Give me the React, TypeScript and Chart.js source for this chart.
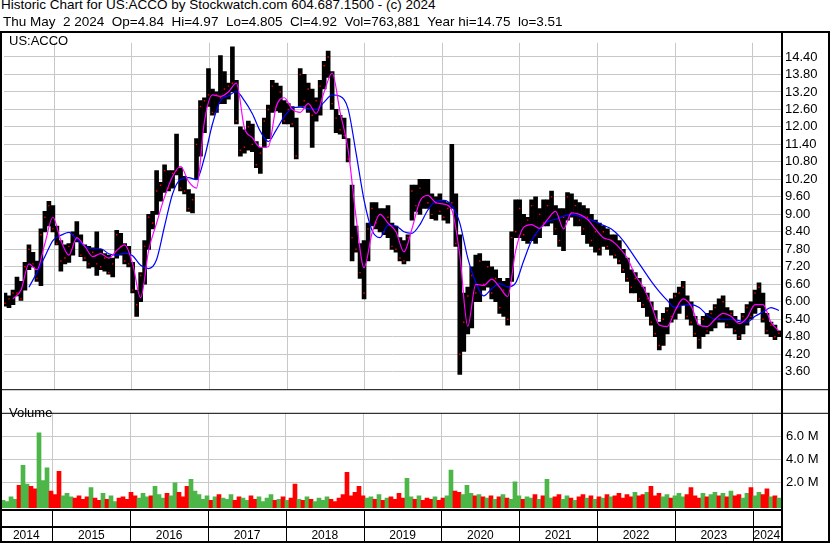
import React, { useEffect, useRef } from 'react';
import { Chart, registerables } from 'chart.js';

Chart.register(...registerables);

const FONT = '"Liberation Sans", Arial, sans-serif';
const GRID = '#c8c8c8';

const HEADER_1 = 'Historic Chart for US:ACCO by Stockwatch.com 604.687.1500 - (c) 2024';
const HEADER_2 = 'Thu May  2 2024  Op=4.84  Hi=4.97  Lo=4.805  Cl=4.92  Vol=763,881  Year hi=14.75  lo=3.51';
const SYMBOL = 'US:ACCO';
const VOLUME_TITLE = 'Volume';

// time axis (decimal years)
const X_MIN = 2014.351;
const X_MAX = 2024.364;
const START_YEAR = 2014.364; // date of first sample
const STEP_YEARS = 0.05141; // about 18.8 days between samples
const YEAR_BOUNDARIES = [2015, 2016, 2017, 2018, 2019, 2020, 2021, 2022, 2023, 2024];
const YEAR_LABELS = ['2014', '2015', '2016', '2017', '2018', '2019', '2020', '2021', '2022', '2023', '2024'];

const PRICE_MIN = 3.0;
const PRICE_MAX = 14.886;
const PRICE_TICKS = [3.6, 4.2, 4.8, 5.4, 6.0, 6.6, 7.2, 7.8, 8.4, 9.0, 9.6, 10.2, 10.8, 11.4, 12.0, 12.6, 13.2, 13.8, 14.4];
const VOL_MIN = -0.154;
const VOL_MAX = 7.923;
const VOLUME_TICKS = [2, 4, 6];

const HIGH = [
  6.3, 6.2, 6.4, 6.85, 6.7, 7.35, 7.95, 7.7, 7.4, 8.5,
  9.1, 9.45, 9.3, 8.6, 8.1, 7.95, 8.0, 8.4, 8.75, 8.3,
  7.95, 7.9, 7.85, 8.4, 7.8, 7.65, 7.6, 7.5, 8.45, 8.35,
  8.0, 7.9, 7.35, 6.4, 7.0, 8.1, 9.0, 9.1, 10.5, 10.1,
  10.7, 10.5, 10.5, 11.75, 10.6, 10.3, 9.85, 9.7, 11.6, 12.9,
  13.0, 14.0, 13.3, 13.2, 14.45, 13.9, 13.5, 14.75, 13.6, 12.0,
  11.9, 12.2, 12.1, 11.5, 11.3, 12.3, 12.75, 13.6, 13.5, 13.4,
  12.9, 12.8, 12.7, 12.3, 14.0, 13.8, 13.5, 13.3, 13.0, 13.6,
  14.25, 14.6, 13.9, 12.6, 12.4, 12.3, 11.6, 10.0, 8.6, 8.0,
  8.1, 8.7, 9.4, 9.4, 9.2, 9.2, 9.3, 8.7, 8.6, 8.2,
  8.1, 8.3, 10.0, 10.0, 10.2, 10.2, 10.2, 9.7, 9.6, 9.7,
  9.45, 9.4, 11.4, 9.7, 8.3, 6.3, 6.5, 7.2, 7.6, 7.65,
  7.4, 7.4, 7.2, 7.1, 6.8, 6.7, 6.8, 8.4, 9.5, 9.5,
  9.0, 8.9, 9.5, 9.6, 9.2, 9.5, 9.5, 9.8, 9.3, 9.2,
  9.2, 9.75, 9.7, 9.5, 9.4, 9.3, 9.2, 9.0, 8.8, 8.7,
  8.6, 8.5, 8.3, 8.3, 8.1, 7.8, 7.5, 7.1, 7.0, 6.8,
  6.5, 6.3, 6.0, 5.7, 5.3, 5.6, 5.8, 6.1, 6.3, 6.5,
  6.7, 6.2, 6.0, 5.5, 5.2, 5.5, 5.6, 5.7, 5.9, 6.1,
  6.2, 5.8, 5.7, 5.5, 5.3, 5.6, 5.9, 6.0, 6.4, 6.65,
  6.3, 5.6, 5.3, 5.2, 5.0,
];

const LOW = [
  5.85, 5.8, 5.9, 6.2, 6.05, 6.4, 7.1, 7.2, 6.7, 6.55,
  8.4, 8.6, 8.4, 7.95, 7.05, 7.3, 7.35, 7.6, 8.05, 7.55,
  7.4, 7.15, 7.2, 6.9, 7.1, 7.05, 6.95, 6.85, 7.5, 7.6,
  7.3, 7.2, 6.3, 5.5, 6.0, 6.6, 7.8, 8.5, 9.0, 9.45,
  9.75, 9.8, 9.9, 10.35, 9.8, 9.7, 9.1, 9.05, 10.2, 11.0,
  11.8, 12.7, 12.4, 12.5, 12.8, 12.8, 12.95, 13.2, 12.1, 11.0,
  11.1, 11.2, 11.15, 10.6, 10.4, 11.3, 11.6, 12.5, 12.55, 12.5,
  12.1, 12.1, 12.0, 10.9, 12.7, 12.7, 12.5, 11.3, 12.2, 12.4,
  13.3, 13.7, 12.6, 11.8, 11.75, 11.6, 10.8, 7.4, 7.7, 6.8,
  6.1, 7.4, 8.6, 8.5, 8.4, 8.3, 8.2, 7.8, 7.7, 7.4,
  7.3, 7.4, 8.8, 9.1, 9.0, 9.2, 9.2, 8.85, 8.8, 9.0,
  8.8, 8.7, 9.2, 7.9, 3.51, 4.3, 4.9, 5.1, 6.0, 6.0,
  6.4, 6.5, 6.1, 6.0, 5.6, 5.5, 5.2, 6.7, 8.2, 8.2,
  8.1, 8.0, 8.1, 8.0, 8.2, 8.6, 8.6, 8.7, 8.3, 7.9,
  7.75, 8.8, 8.9, 8.6, 8.6, 8.3, 8.0, 7.9, 7.7, 7.6,
  7.9, 7.8, 7.6, 7.5, 7.3, 7.0, 6.7, 6.3, 6.3, 6.0,
  5.8, 5.5, 5.2, 4.8, 4.35, 4.5, 4.9, 5.3, 5.4, 5.6,
  5.9, 5.4, 5.2, 4.8, 4.4, 4.8, 4.9, 5.0, 5.1, 5.3,
  5.3, 5.1, 5.1, 4.9, 4.7, 4.9, 5.2, 5.4, 5.6, 5.8,
  5.3, 4.9, 4.8, 4.7, 4.8,
];

const CLOSE = [
  5.95, 6.1, 6.3, 6.3, 6.1, 7.2, 7.8, 7.3, 6.8, 8.3,
  8.9, 9.3, 8.5, 8.0, 7.4, 7.5, 7.9, 8.3, 8.2, 7.6,
  7.5, 7.3, 7.7, 7.3, 7.2, 7.5, 7.0, 7.3, 8.3, 7.9,
  7.4, 7.3, 6.4, 5.9, 6.9, 7.9, 8.9, 8.7, 9.8, 10.0,
  10.5, 9.9, 10.4, 10.5, 9.9, 9.8, 9.2, 9.5, 11.4, 12.7,
  12.9, 13.1, 12.5, 13.1, 13.0, 13.3, 13.4, 13.5, 12.2, 11.2,
  11.3, 12.0, 11.4, 10.7, 11.1, 12.2, 12.6, 13.4, 12.7, 13.2,
  12.2, 12.6, 12.1, 11.0, 13.8, 12.9, 13.3, 12.4, 12.9, 13.4,
  14.1, 14.4, 12.8, 12.3, 11.9, 11.7, 10.9, 8.2, 7.8, 7.0,
  6.3, 8.5, 9.2, 8.7, 9.0, 8.4, 8.9, 7.9, 7.8, 7.5,
  7.4, 8.2, 9.8, 9.3, 9.9, 9.6, 9.4, 9.0, 9.4, 9.1,
  8.9, 9.2, 9.4, 8.0, 4.2, 5.3, 6.2, 6.9, 6.3, 7.4,
  6.6, 7.2, 6.3, 6.8, 5.8, 6.4, 5.4, 8.2, 8.4, 9.2,
  8.3, 8.8, 9.3, 8.3, 9.0, 8.7, 9.3, 9.6, 8.5, 8.1,
  8.9, 9.6, 9.0, 9.3, 8.8, 8.5, 8.9, 8.1, 8.4, 7.8,
  8.4, 7.9, 8.1, 7.6, 7.4, 7.1, 6.8, 6.5, 6.8, 6.1,
  5.9, 6.1, 5.3, 4.9, 4.5, 5.4, 5.7, 5.5, 6.2, 6.3,
  6.5, 5.5, 5.3, 4.9, 4.7, 5.4, 5.0, 5.6, 5.8, 5.4,
  6.0, 5.2, 5.6, 5.0, 4.8, 5.5, 5.8, 5.5, 6.3, 6.5,
  5.4, 5.0, 5.2, 4.8, 4.92,
];

// millions of shares
const VOLUME = [
  0.5, 0.4, 0.8, 0.6, 1.8, 3.5, 1.9, 1.7, 1.5, 6.3,
  2.2, 3.3, 1.3, 1.0, 3.0, 0.9, 1.1, 0.8, 0.7, 0.9,
  0.6, 0.8, 1.6, 0.7, 0.5, 1.1, 0.6, 0.9, 0.4, 0.7,
  0.8, 0.6, 1.2, 0.9, 0.7, 1.1, 0.8, 0.9, 1.7, 1.0,
  0.7, 1.1, 0.9, 2.0, 1.2, 0.8, 1.7, 2.3, 1.3, 1.0,
  0.6, 0.9, 0.5, 0.8, 1.0, 0.7, 0.6, 1.0, 0.5, 0.8,
  0.7, 0.5, 0.9, 0.6, 0.8, 0.4, 0.7, 1.0, 0.5, 0.6,
  0.8, 0.5, 0.7, 1.9, 0.6, 0.5, 0.8, 0.6, 0.4, 0.7,
  0.5, 0.8, 0.6, 0.4, 0.7, 1.0, 2.9, 0.9, 1.2, 1.7,
  0.9, 0.7, 0.8, 0.6, 1.0, 0.5, 0.7, 0.8, 0.6, 1.1,
  0.7, 2.4, 0.8, 0.6, 0.9, 0.5, 0.7, 0.6, 0.8, 0.5,
  0.7, 0.9, 3.1, 1.3, 1.2, 1.0, 1.8, 1.1, 0.9, 1.0,
  0.8, 0.7, 0.9, 0.6, 0.8, 1.0, 0.7, 0.6, 2.1, 0.9,
  0.6, 0.8, 0.7, 1.0, 0.6, 0.9, 2.3, 0.7, 0.8, 1.0,
  0.6, 0.9, 0.7, 0.5, 0.8, 1.0, 0.7, 0.9, 0.6, 0.8,
  0.7, 1.0, 0.8, 0.9, 1.1, 0.7, 1.0, 0.8, 1.2, 0.9,
  1.0, 1.2, 1.7, 0.9, 1.1, 0.8, 1.0, 0.7, 0.9, 1.1,
  0.8, 1.0, 1.6, 0.9, 0.7, 1.1, 0.8, 1.0, 1.2, 0.9,
  1.1, 0.8, 1.3, 0.9, 1.0, 0.7, 1.1, 1.6, 0.9, 1.2,
  1.0, 1.5, 0.8, 0.9, 0.7,
];

// moving averages, one value every second sample
const MA_FAST = [
  null, 6.1, 6.4, 7.3, 7.1, 8.0, 8.9, 8.1, 7.6, 8.19,
  7.9, 7.55, 7.65, 7.5, 7.76, 7.95, 7.3, 6.14, 7.76, 8.7,
  9.6, 10.3, 10.65, 10.13, 9.9, 12.2, 13.1, 13.05, 13.2, 13.5,
  11.97, 11.63, 11.3, 11.32, 12.7, 13.0, 12.6, 12.5, 12.8, 12.46,
  13.2, 13.85, 12.5, 11.22, 8.9, 7.17, 8.35, 9.0, 8.7, 8.4,
  7.71, 8.5, 9.45, 9.65, 9.4, 9.35, 9.15, 7.6, 5.16, 6.6,
  6.56, 6.78, 6.5, 6.18, 7.75, 8.55, 8.65, 8.52, 8.83, 9.1,
  8.5, 9.05, 9.0, 8.83, 8.5, 8.2, 8.1, 7.85, 7.5, 6.9,
  6.5, 5.9, 5.2, 5.15, 5.7, 6.1, 5.85, 5.2, 5.15, 5.4,
  5.6, 5.5, 5.25, 5.45, 5.9, 5.9, 5.3, 5.0,
];

const MA_SLOW = [
  null, null, null, 6.5, 7.0, 7.55, 8.1, 8.28, 8.38, 8.14,
  7.9, 7.82, 7.82, 7.65, 7.6, 7.67, 7.58, 7.25, 7.14, 7.45,
  8.6, 9.7, 10.2, 10.26, 10.19, 10.95, 12.1, 12.9, 13.07, 13.21,
  12.9, 12.45, 11.85, 11.5, 11.9, 12.35, 12.65, 12.68, 12.63, 12.6,
  12.85, 13.1, 13.05, 12.62, 11.1, 9.49, 8.45, 8.2, 8.62, 8.6,
  8.4, 8.35, 8.65, 9.15, 9.45, 9.48, 9.3, 8.7, 7.5, 6.67,
  6.2, 6.45, 6.62, 6.51, 6.65, 7.4, 8.1, 8.5, 8.75, 8.83,
  8.94, 8.99, 8.93, 8.85, 8.75, 8.62, 8.5, 8.25, 7.9, 7.5,
  7.1, 6.7, 6.35, 6.05, 5.8, 5.88, 5.9, 5.8, 5.55, 5.4,
  5.4, 5.4, 5.35, 5.3, 5.5, 5.65, 5.8, 5.7,
];

const dateAt = (i: number) => START_YEAR + i * STEP_YEARS;

const framePrice = {
  id: 'framePrice',
  afterDraw(chart: any) {
    const ctx = chart.ctx;
    const W = chart.width;
    const H = chart.height;
    const right = chart.chartArea.right;
    ctx.save();
    ctx.fillStyle = '#000';
    ctx.fillRect(0, 0, W, 2);
    ctx.fillRect(0, 0, 2, H);
    ctx.fillRect(right, 0, 2, H);
    ctx.fillRect(W - 2, 0, 2, H);
    ctx.fillRect(0, chart.chartArea.bottom, W, 1);
    ctx.restore();
  },
};

const frameVolume = {
  id: 'frameVolume',
  afterDraw(chart: any) {
    const ctx = chart.ctx;
    const W = chart.width;
    const H = chart.height;
    const area = chart.chartArea;
    const xs = chart.scales.x;
    const b = area.bottom;
    ctx.save();
    ctx.fillStyle = '#000';
    ctx.fillRect(0, area.top - 1, W, 1);
    ctx.fillRect(0, 0, 2, H);
    ctx.fillRect(area.right, 0, 2, H);
    ctx.fillRect(W - 2, 0, 2, H);
    ctx.fillRect(0, b + 1, area.right + 2, 2);
    ctx.fillRect(0, b + 18, area.right + 2, 2);
    ctx.fillRect(0, H - 2, W, 2);
    YEAR_BOUNDARIES.forEach((yr) => {
      const px = Math.round(xs.getPixelForValue(yr));
      ctx.fillRect(px, b + 3, 1, H - b - 4);
    });
    ctx.font = '12px ' + FONT;
    ctx.textAlign = 'center';
    ctx.textBaseline = 'alphabetic';
    YEAR_LABELS.forEach((lab, k) => {
      const a = k === 0 ? 0 : xs.getPixelForValue(YEAR_BOUNDARIES[k - 1]);
      const e = k === YEAR_LABELS.length - 1 ? area.right : xs.getPixelForValue(YEAR_BOUNDARIES[k]);
      ctx.fillText(lab, (a + e) / 2, H - 4);
    });
    ctx.restore();
  },
};

const xScaleOptions = {
  type: 'linear',
  min: X_MIN,
  max: X_MAX,
  offset: false,
  display: true,
  border: { display: false },
  grid: { color: GRID, drawTicks: false, offset: false, lineWidth: 1 },
  ticks: { display: false },
  afterBuildTicks: (s: any) => {
    s.ticks = YEAR_BOUNDARIES.map((v) => ({ value: v }));
  },
  afterFit: (s: any) => {
    s.height = 0;
  },
};

export default function App() {
  const priceRef = useRef<HTMLCanvasElement>(null);
  const volRef = useRef<HTMLCanvasElement>(null);

  useEffect(() => {
    const hlData = HIGH.map((h, i) => ({ x: dateAt(i), y: [LOW[i], h] }));
    const closeData = CLOSE.map((c, i) => ({ x: dateAt(i), y: c }));
    const fastData = MA_FAST.map((v, j) => ({ x: dateAt(j * 2), y: v })).filter((p) => p.y !== null);
    const slowData = MA_SLOW.map((v, j) => ({ x: dateAt(j * 2), y: v })).filter((p) => p.y !== null);
    const volData = VOLUME.map((v, i) => ({ x: dateAt(i), y: v }));
    const volColors = VOLUME.map((_, i) => (i === 0 || CLOSE[i] >= CLOSE[i - 1] ? '#4cb648' : '#ff0000'));

    const price = new Chart(priceRef.current as HTMLCanvasElement, {
      type: 'bar',
      data: {
        datasets: [
          {
            type: 'line',
            label: 'MA fast',
            data: fastData,
            borderColor: '#ff00ff',
            borderWidth: 1.2,
            pointRadius: 0,
            cubicInterpolationMode: 'monotone',
            order: 0,
          } as any,
          {
            type: 'line',
            label: 'MA slow',
            data: slowData,
            borderColor: '#0000ff',
            borderWidth: 1.2,
            pointRadius: 0,
            cubicInterpolationMode: 'monotone',
            order: 0,
          } as any,
          {
            type: 'scatter',
            label: 'Close',
            data: closeData,
            pointStyle: 'rect',
            pointRadius: 1,
            backgroundColor: '#ff0000',
            borderWidth: 0,
            order: 1,
          } as any,
          {
            type: 'bar',
            label: 'High-Low',
            data: hlData,
            backgroundColor: '#000000',
            borderWidth: 0,
            barThickness: 4,
            order: 2,
          } as any,
        ],
      },
      options: {
        responsive: false,
        animation: false,
        devicePixelRatio: 1,
        events: [],
        layout: { padding: { left: 2, top: 2, right: 0, bottom: 1 } },
        plugins: { legend: { display: false }, tooltip: { enabled: false } },
        scales: {
          x: xScaleOptions as any,
          y: {
            type: 'linear',
            position: 'right',
            min: PRICE_MIN,
            max: PRICE_MAX,
            border: { display: false },
            grid: { color: GRID, drawTicks: false },
            ticks: {
              padding: 4,
              autoSkip: false,
              color: '#000',
              font: { family: FONT, size: 13 },
              callback: (v: any) => Number(v).toFixed(2),
            },
            afterBuildTicks: (s: any) => {
              s.ticks = PRICE_TICKS.map((v) => ({ value: v }));
            },
            afterFit: (s: any) => {
              s.width = 49;
            },
          } as any,
        },
      },
      plugins: [framePrice],
    });

    const volume = new Chart(volRef.current as HTMLCanvasElement, {
      type: 'bar',
      data: {
        datasets: [
          {
            label: 'Volume',
            data: volData,
            backgroundColor: volColors,
            borderWidth: 0,
            barThickness: 4,
            base: VOL_MIN,
          } as any,
        ],
      },
      options: {
        responsive: false,
        animation: false,
        devicePixelRatio: 1,
        events: [],
        layout: { padding: { left: 2, top: 2, right: 0, bottom: 35 } },
        plugins: { legend: { display: false }, tooltip: { enabled: false } },
        scales: {
          x: xScaleOptions as any,
          y: {
            type: 'linear',
            position: 'right',
            min: VOL_MIN,
            max: VOL_MAX,
            border: { display: false },
            grid: { color: GRID, drawTicks: false },
            ticks: {
              padding: 5,
              autoSkip: false,
              color: '#000',
              font: { family: FONT, size: 13 },
              callback: (v: any) => Number(v).toFixed(1) + ' M',
            },
            afterBuildTicks: (s: any) => {
              s.ticks = VOLUME_TICKS.map((v) => ({ value: v }));
            },
            afterFit: (s: any) => {
              s.width = 49;
            },
          } as any,
        },
      },
      plugins: [frameVolume],
    });

    return () => {
      price.destroy();
      volume.destroy();
    };
  }, []);

  const textStyle: React.CSSProperties = {
    position: 'absolute',
    fontFamily: FONT,
    fontSize: '13px',
    lineHeight: '14px',
    whiteSpace: 'pre',
    color: '#000',
  };

  return (
    <div style={{ position: 'fixed', left: 0, top: 0, width: 830, height: 543, background: '#fff', overflow: 'hidden' }}>
      <canvas ref={priceRef} width={830} height={370} style={{ position: 'absolute', left: 0, top: 31, width: 830, height: 370 }} />
      <canvas ref={volRef} width={830} height={142} style={{ position: 'absolute', left: 0, top: 401, width: 830, height: 142 }} />
      <div style={{ ...textStyle, fontSize: '13.5px', left: 1, top: -2 }}>{HEADER_1}</div>
      <div style={{ ...textStyle, fontSize: '13.5px', left: 3, top: 15 }}>{HEADER_2}</div>
      <div style={{ ...textStyle, left: 9, top: 34 }}>{SYMBOL}</div>
      <div style={{ ...textStyle, left: 9, top: 406 }}>{VOLUME_TITLE}</div>
    </div>
  );
}
